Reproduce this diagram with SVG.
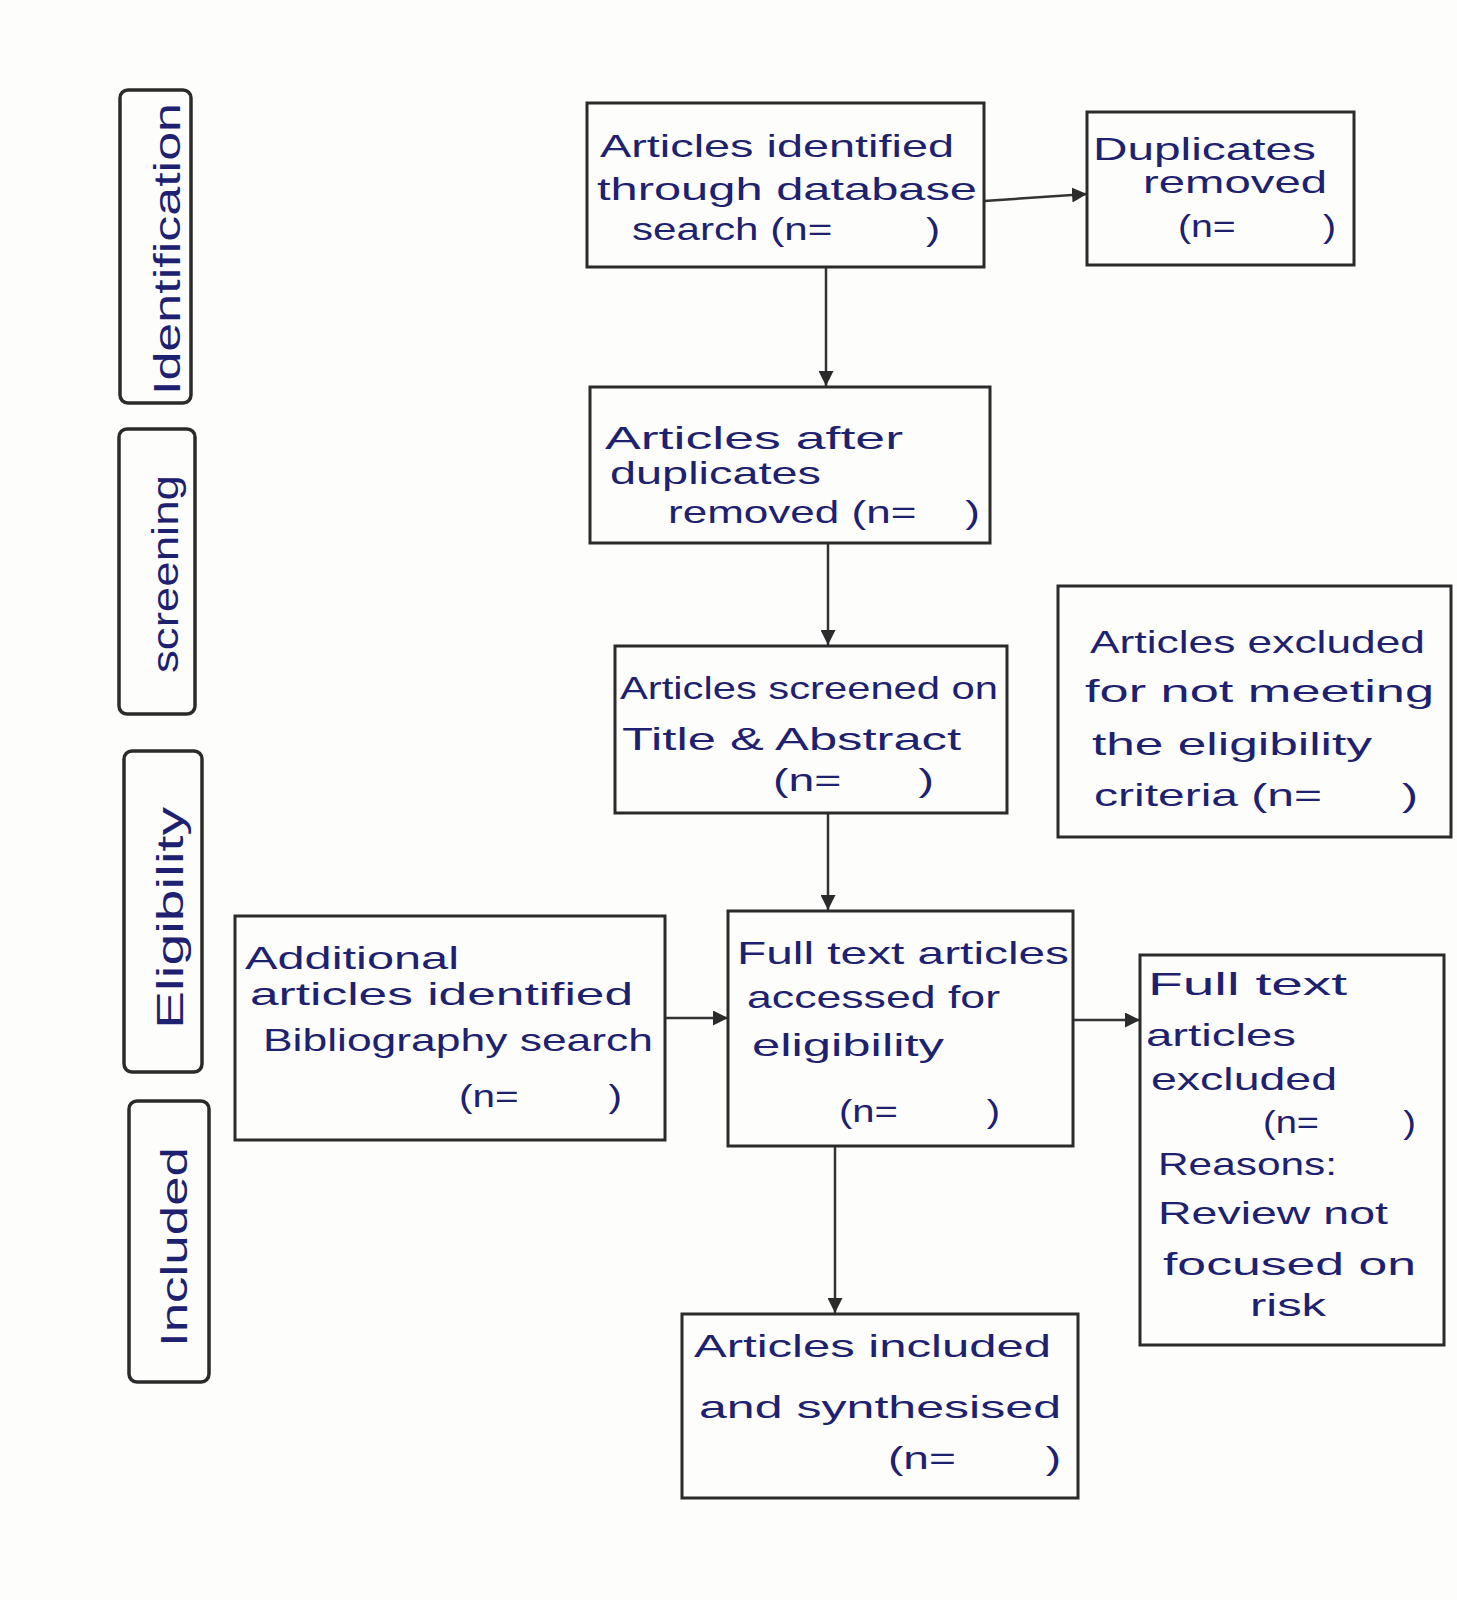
<svg xmlns="http://www.w3.org/2000/svg" width="1457" height="1600" viewBox="0 0 1457 1600" xml:space="preserve">
<style>
.box{fill:none;stroke:#2b2b2b;stroke-width:3}
.lane{fill:none;stroke:#2b2b2b;stroke-width:3.5}
.t{font-family:"Liberation Sans","DejaVu Sans",sans-serif;font-size:32px;fill:#1d2170;white-space:pre}
.lt{font-family:"Liberation Sans","DejaVu Sans",sans-serif;font-size:36px;fill:#1d2170}
.c{stroke:#333;stroke-width:2.5;fill:none}
</style>
<defs>
<marker id="ah" viewBox="0 0 10 10" refX="10" refY="5" markerWidth="6" markerHeight="6" orient="auto" markerUnits="strokeWidth">
<path d="M0,0 L10,5 L0,10 z" fill="#2b2b2b"/>
</marker>
</defs>
<rect width="1457" height="1600" fill="#fdfdfc"/>

<g id="lane-identification">
<rect class="lane" x="120" y="90" width="71" height="313" rx="8"/>
<text class="lt" transform="translate(180,249) rotate(-90)" text-anchor="middle" textLength="292" lengthAdjust="spacingAndGlyphs">Identification</text>
</g>
<g id="lane-screening">
<rect class="lane" x="119" y="429" width="76" height="285" rx="8"/>
<text class="lt" transform="translate(178,574) rotate(-90)" text-anchor="middle" textLength="198" lengthAdjust="spacingAndGlyphs">screening</text>
</g>
<g id="lane-eligibility">
<rect class="lane" x="124" y="751" width="78" height="321" rx="8"/>
<text class="lt" transform="translate(183,918) rotate(-90)" text-anchor="middle" textLength="222" lengthAdjust="spacingAndGlyphs">Eligibility</text>
</g>
<g id="lane-included">
<rect class="lane" x="129" y="1101" width="80" height="281" rx="8"/>
<text class="lt" transform="translate(187,1247) rotate(-90)" text-anchor="middle" textLength="200" lengthAdjust="spacingAndGlyphs">Included</text>
</g>

<g id="connectors">
<line class="c" x1="984" y1="201" x2="1087" y2="194" marker-end="url(#ah)"/>
<line class="c" x1="826" y1="267" x2="826" y2="386" marker-end="url(#ah)"/>
<line class="c" x1="828" y1="543" x2="828" y2="645" marker-end="url(#ah)"/>
<line class="c" x1="828" y1="813" x2="828" y2="910" marker-end="url(#ah)"/>
<line class="c" x1="665" y1="1018" x2="728" y2="1018" marker-end="url(#ah)"/>
<line class="c" x1="1073" y1="1020" x2="1140" y2="1020" marker-end="url(#ah)"/>
<line class="c" x1="835" y1="1146" x2="835" y2="1313" marker-end="url(#ah)"/>
</g>

<g id="node-identified">
<rect class="box" x="587" y="103" width="397" height="164"/>
<text class="t" x="600" y="157" textLength="354" lengthAdjust="spacingAndGlyphs">Articles identified</text>
<text class="t" x="597" y="200" textLength="380" lengthAdjust="spacingAndGlyphs">through database</text>
<text class="t" x="632" y="240" textLength="308" lengthAdjust="spacingAndGlyphs">search (n=        )</text>
</g>

<g id="node-duplicates">
<rect class="box" x="1087" y="112" width="267" height="153"/>
<text class="t" x="1093" y="160" textLength="223" lengthAdjust="spacingAndGlyphs">Duplicates</text>
<text class="t" x="1143" y="193" textLength="184" lengthAdjust="spacingAndGlyphs">removed</text>
<text class="t" x="1178" y="237" textLength="158" lengthAdjust="spacingAndGlyphs">(n=        )</text>
</g>

<g id="node-after-duplicates">
<rect class="box" x="590" y="387" width="400" height="156"/>
<text class="t" x="605" y="449" textLength="298" lengthAdjust="spacingAndGlyphs">Articles after</text>
<text class="t" x="610" y="484" textLength="211" lengthAdjust="spacingAndGlyphs">duplicates</text>
<text class="t" x="668" y="523" textLength="312" lengthAdjust="spacingAndGlyphs">removed (n=    )</text>
</g>

<g id="node-screened">
<rect class="box" x="615" y="646" width="392" height="167"/>
<text class="t" x="620" y="699" textLength="378" lengthAdjust="spacingAndGlyphs">Articles screened on</text>
<text class="t" x="622" y="750" textLength="339" lengthAdjust="spacingAndGlyphs">Title &amp; Abstract</text>
<text class="t" x="773" y="791" textLength="161" lengthAdjust="spacingAndGlyphs">(n=      )</text>
</g>

<g id="node-excluded-criteria">
<rect class="box" x="1058" y="586" width="393" height="251"/>
<text class="t" x="1090" y="653" textLength="335" lengthAdjust="spacingAndGlyphs">Articles excluded</text>
<text class="t" x="1085" y="702" textLength="349" lengthAdjust="spacingAndGlyphs">for not meeting</text>
<text class="t" x="1092" y="755" textLength="280" lengthAdjust="spacingAndGlyphs">the eligibility</text>
<text class="t" x="1094" y="806" textLength="324" lengthAdjust="spacingAndGlyphs">criteria (n=      )</text>
</g>

<g id="node-additional">
<rect class="box" x="235" y="916" width="430" height="224"/>
<text class="t" x="245" y="969" textLength="214" lengthAdjust="spacingAndGlyphs">Additional</text>
<text class="t" x="250" y="1005" textLength="383" lengthAdjust="spacingAndGlyphs">articles identified</text>
<text class="t" x="263" y="1051" textLength="390" lengthAdjust="spacingAndGlyphs">Bibliography search</text>
<text class="t" x="459" y="1107" textLength="163" lengthAdjust="spacingAndGlyphs">(n=        )</text>
</g>

<g id="node-fulltext-assessed">
<rect class="box" x="728" y="911" width="345" height="235"/>
<text class="t" x="737" y="964" textLength="332" lengthAdjust="spacingAndGlyphs">Full text articles</text>
<text class="t" x="747" y="1008" textLength="253" lengthAdjust="spacingAndGlyphs">accessed for</text>
<text class="t" x="752" y="1056" textLength="192" lengthAdjust="spacingAndGlyphs">eligibility</text>
<text class="t" x="839" y="1122" textLength="161" lengthAdjust="spacingAndGlyphs">(n=        )</text>
</g>

<g id="node-fulltext-excluded">
<rect class="box" x="1140" y="955" width="304" height="390"/>
<text class="t" x="1148" y="995" textLength="199" lengthAdjust="spacingAndGlyphs">Full text</text>
<text class="t" x="1146" y="1046" textLength="150" lengthAdjust="spacingAndGlyphs">articles</text>
<text class="t" x="1151" y="1090" textLength="186" lengthAdjust="spacingAndGlyphs">excluded</text>
<text class="t" x="1263" y="1133" textLength="153" lengthAdjust="spacingAndGlyphs">(n=        )</text>
<text class="t" x="1158" y="1175" textLength="179" lengthAdjust="spacingAndGlyphs">Reasons:</text>
<text class="t" x="1158" y="1224" textLength="230" lengthAdjust="spacingAndGlyphs">Review not</text>
<text class="t" x="1163" y="1275" textLength="253" lengthAdjust="spacingAndGlyphs">focused on</text>
<text class="t" x="1250" y="1316" textLength="76" lengthAdjust="spacingAndGlyphs">risk</text>
</g>

<g id="node-included">
<rect class="box" x="682" y="1314" width="396" height="184"/>
<text class="t" x="694" y="1357" textLength="357" lengthAdjust="spacingAndGlyphs">Articles included</text>
<text class="t" x="699" y="1418" textLength="362" lengthAdjust="spacingAndGlyphs">and synthesised</text>
<text class="t" x="888" y="1469" textLength="173" lengthAdjust="spacingAndGlyphs">(n=       )</text>
</g>
</svg>
